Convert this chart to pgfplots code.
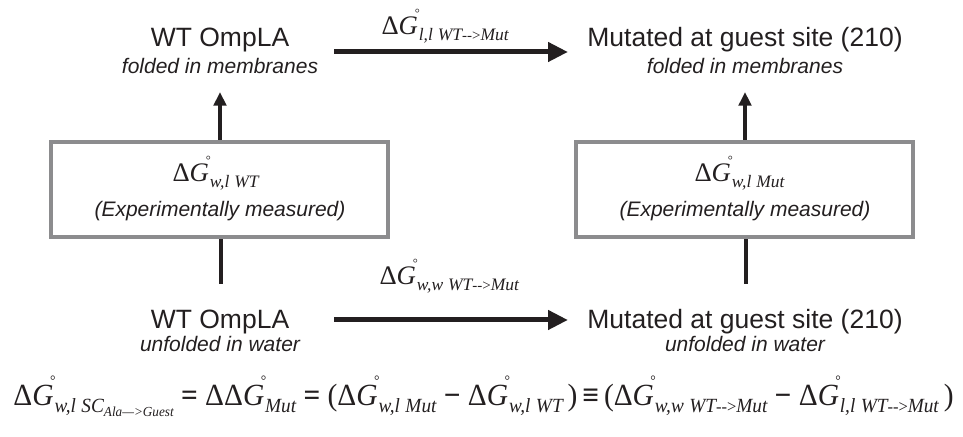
\documentclass[border=0pt]{standalone}
\usepackage{graphicx}
\usepackage{fontspec}
\setmainfont{Liberation Sans}
\newfontfamily\serif{Liberation Serif}
\usepackage{pgfplots}
\pgfplotsset{compat=1.18}
\usetikzlibrary{arrows.meta}
\definecolor{boxgray}{HTML}{8C8C8E}
\definecolor{ink}{HTML}{231F20}
\newcommand{\ttl}{\fontsize{10.6}{12}\selectfont}
\newcommand{\sub}{\fontsize{8.4}{10}\selectfont\itshape}
\newcommand{\lbl}{\fontsize{10.7}{12}\selectfont\serif}
% Delta G degree with subscript, built from real text
\newcommand{\DG}[1]{\mbox{Δ\textit{G}\kern-1.3pt\rlap{\raisebox{7.1pt}{\fontsize{5}{5}\selectfont °}}\kern1.6pt\raisebox{-2.2pt}{\itshape\fontsize{7}{8}\selectfont #1}}}
\newcommand{\arr}{{\upshape\fontsize{6}{7}\selectfont -{}->}}
\newcommand{\sep}{\hspace{0.28em}}
\begin{document}
\begin{tikzpicture}
\begin{axis}[
  scale only axis, width=385.2pt, height=174.8pt,
  xmin=0, xmax=963, ymin=0, ymax=437, y dir=reverse,
  hide axis, clip=false,
]
\coordinate (SW) at (rel axis cs:0,0);
\coordinate (NE) at (rel axis cs:1,1);
% horizontal arrows
\addplot[ink, line width=2pt, -{Triangle[length=8pt,width=7.5pt]}] coordinates {(334,52) (568,52)};
\addplot[ink, line width=2pt, -{Triangle[length=8pt,width=7.5pt]}] coordinates {(334,320) (568,320)};
% vertical arrows up
\addplot[ink, line width=1.3pt, -{Triangle[length=5.5pt,width=5pt]}] coordinates {(220,142) (220,92)};
\addplot[ink, line width=1.3pt, -{Triangle[length=5.5pt,width=5pt]}] coordinates {(745,142) (745,92)};
% vertical lines down
\addplot[ink, line width=1.3pt] coordinates {(221,237) (221,284)};
\addplot[ink, line width=1.3pt] coordinates {(746,237) (746,284)};
% boxes
\addplot[boxgray, line width=1.4pt, line cap=rect, line join=miter] coordinates {(51,142) (388,142) (388,237) (51,237) (51,142)};
\addplot[boxgray, line width=1.4pt, line cap=rect, line join=miter] coordinates {(576,142) (913,142) (913,237) (576,237) (576,142)};

% texts
\node[anchor=base, text=ink] at (axis cs:220,47) {\ttl WT OmpLA};
\node[anchor=base, text=ink] at (axis cs:220,74) {\sub folded in membranes};
\node[anchor=base, text=ink] at (axis cs:745,47) {\ttl Mutated at guest site (210)};
\node[anchor=base, text=ink] at (axis cs:745,74) {\sub folded in membranes};
\node[anchor=base, text=ink] at (axis cs:220,329) {\ttl WT OmpLA};
\node[anchor=base, text=ink] at (axis cs:220,352) {\sub unfolded in water};
\node[anchor=base, text=ink] at (axis cs:745,329) {\ttl Mutated at guest site (210)};
\node[anchor=base, text=ink] at (axis cs:745,352) {\sub unfolded in water};

\node[anchor=base west, text=ink, inner sep=0pt] at (axis cs:381,35) {\lbl \DG{l,l\sep WT\arr Mut}};
\node[anchor=base west, text=ink, inner sep=0pt] at (axis cs:379,285) {\lbl \DG{w,w\sep WT\arr Mut}};

\node[anchor=base west, text=ink, inner sep=0pt] at (axis cs:172,182) {\lbl \DG{w,l\sep WT}};
\node[anchor=base, text=ink] at (axis cs:220,217) {\sub (Experimentally measured)};
\node[anchor=base west, text=ink, inner sep=0pt] at (axis cs:694,182) {\lbl \DG{w,l\sep Mut}};
\node[anchor=base, text=ink] at (axis cs:745,217) {\sub (Experimentally measured)};

\node[anchor=base west, text=ink, inner sep=0pt] at (axis cs:13,406) {\resizebox{376pt}{1.15\height}{\lbl
\DG{w,l\sep SC\raisebox{-1.6pt}{\fontsize{4.8}{5}\selectfont Ala—>Guest}}\ \textbf{=}
Δ\DG{Mut}\ \textbf{=}
(\DG{w,l\sep Mut}\ \textbf{−}
\DG{w,l\sep WT}\,)\,\textbf{≡}\,(\DG{w,w\sep WT\arr Mut}\ \textbf{−}
\DG{l,l\sep WT\arr Mut}\,)}};
\end{axis}
\pgfresetboundingbox
\path (SW) rectangle (NE);
\end{tikzpicture}
\end{document}
